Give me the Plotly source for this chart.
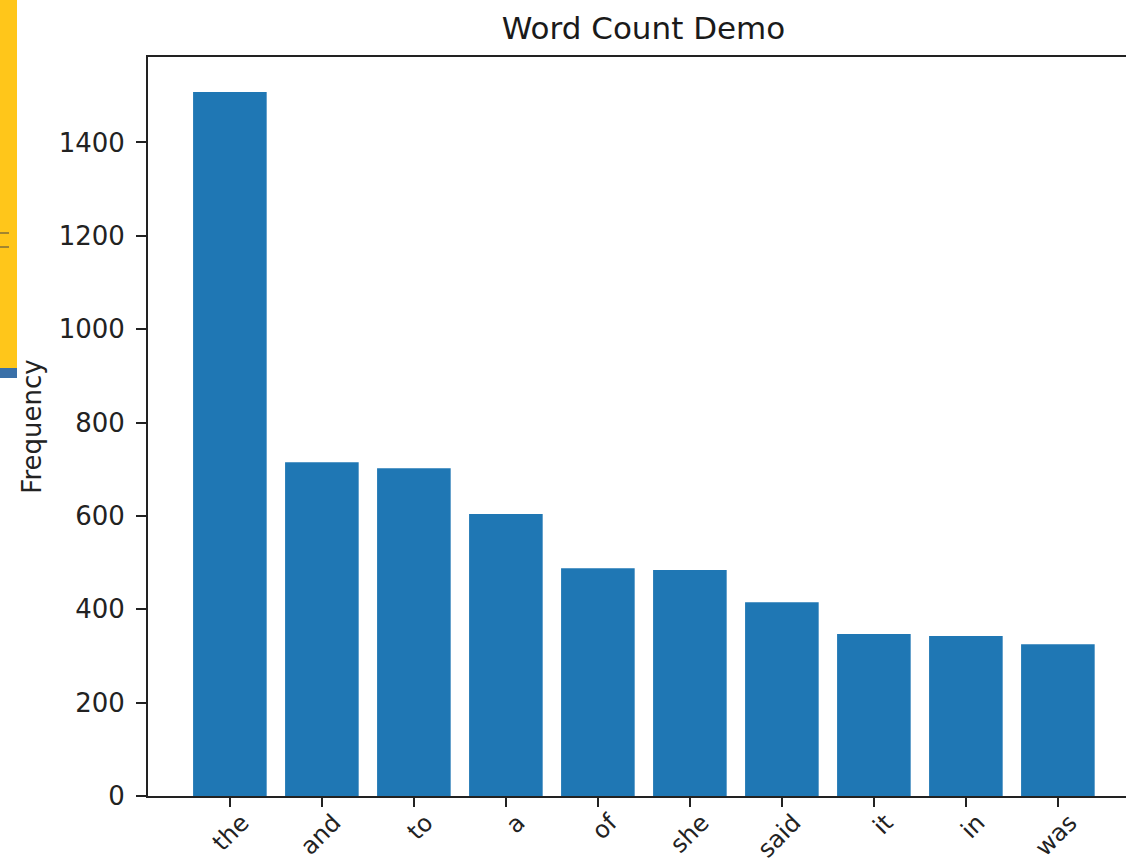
import plotly.graph_objects as go

words = ["the", "and", "to", "a", "of", "she", "said", "it", "in", "was"]
counts = [1508, 715, 702, 604, 488, 484, 415, 347, 343, 325]
y_ticks = [0, 200, 400, 600, 800, 1000, 1200, 1400]

W, H = 1126, 868
L, T, B = 148, 57, 72
PW, PH = W - L, H - T - B

fig = go.Figure(go.Bar(
    x=list(range(len(words))), y=counts, width=0.8,
    marker=dict(color="#1f77b4", line=dict(width=0)),
))

fig.update_layout(
    width=W, height=H,
    margin=dict(l=L, r=0, t=T, b=B, pad=0, autoexpand=False),
    paper_bgcolor="white", plot_bgcolor="white",
    font=dict(family="DejaVu Sans", size=26, color="#222"),
    title=dict(text="Word Count Demo", x=643.5 / W, xanchor="center",
               y=1 - 28 / H, yanchor="middle", font=dict(size=31, color="#1a1a1a")),
    showlegend=False,
)

fig.update_xaxes(
    range=[-0.89, -0.89 + PW / 92.0],
    tickmode="array", tickvals=list(range(len(words))), ticktext=words,
    tickangle=-45, ticks="outside", ticklen=9, tickwidth=2, tickcolor="#222",
    tickfont=dict(size=24),
    ticklabelshift=12, ticklabelstandoff=-8,
    showline=True, linecolor="#222", linewidth=2, mirror=True,
    showgrid=False, zeroline=False, automargin=False,
)
fig.update_yaxes(
    range=[0, 1583],
    tickmode="array", tickvals=y_ticks, ticktext=[str(v) for v in y_ticks],
    ticks="outside", ticklen=10, tickwidth=2, tickcolor="#222",
    ticklabelstandoff=6,
    showline=True, linecolor="#222", linewidth=2, mirror=False,
    showgrid=False, zeroline=False, automargin=False,
    title=dict(text="Frequency", standoff=10, font=dict(size=26)),
)

# slide artifact on the left edge
def py(v):
    return 1 - (v - T) / PH

x0a, x1a = -L / PW, (17 - L) / PW
fig.add_shape(type="rect", xref="paper", yref="paper",
              x0=x0a, x1=x1a, y0=py(368), y1=py(0),
              fillcolor="#FFC61A", line=dict(width=0), layer="above")
fig.add_shape(type="rect", xref="paper", yref="paper",
              x0=x0a, x1=x1a, y0=py(378), y1=py(368),
              fillcolor="#3A70A8", line=dict(width=0), layer="above")
for yy in (233, 247):
    fig.add_shape(type="line", xref="paper", yref="paper",
                  x0=x0a, x1=x1a, y0=py(yy), y1=py(yy),
                  line=dict(color="#444", width=1, dash="dash"), layer="above")

fig.write_html("out.html", config={"displayModeBar": False},
               post_script="document.body.style.margin='0px';document.body.style.overflow='hidden';")
